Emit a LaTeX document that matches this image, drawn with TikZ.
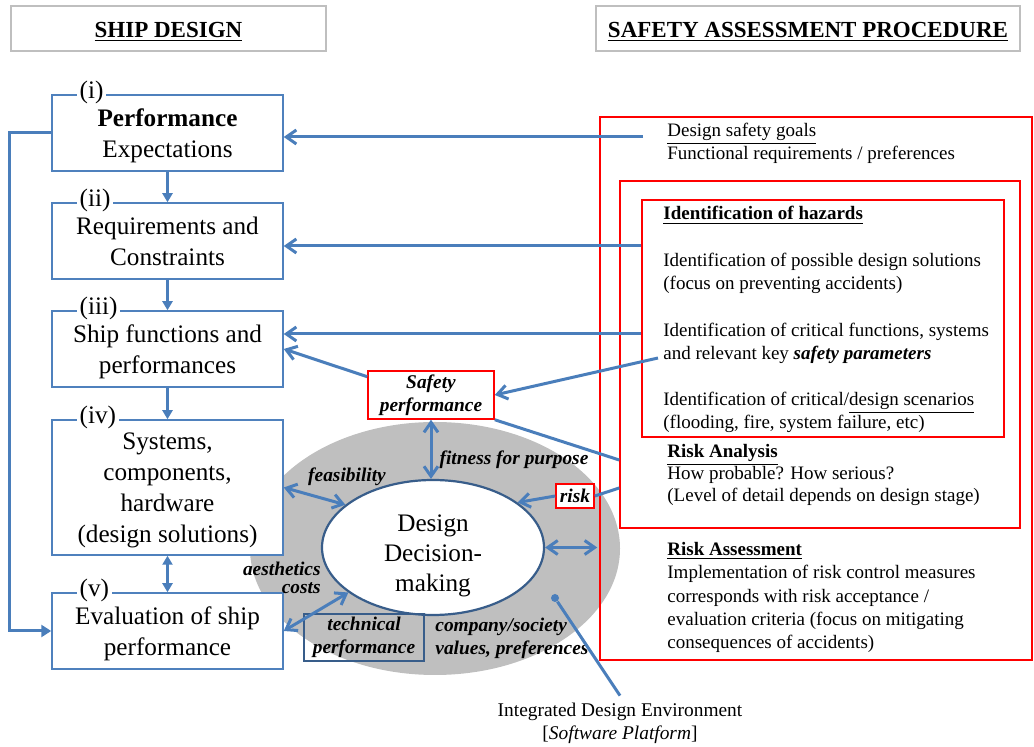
\documentclass[tikz,border=0pt]{standalone}
\usepackage{fontspec}
\setmainfont{Liberation Serif}
\usetikzlibrary{arrows.meta,positioning,shapes.geometric,calc}
\definecolor{lineblue}{HTML}{4A7EBB}
\definecolor{boxblue} {HTML}{4F81BD}
\definecolor{deepblue}{HTML}{385D8A}
\definecolor{alarm}   {HTML}{FF0000}
\definecolor{shade}   {HTML}{BFBFBF}
\tikzset{
  head/.style  ={draw=shade, line width=1pt, minimum height=22.5pt,
                 text height=9pt, text depth=0pt,
                 font=\fontsize{11.5}{13}\selectfont\bfseries},
  box/.style   ={draw=boxblue, fill=white, line width=0.75pt,
                 minimum width=115.5pt, minimum height=38pt, text depth=0pt,
                 align=center, font=\fontsize{12.6}{15.5}\selectfont, inner sep=2pt},
  tag/.style   ={fill=white, inner sep=1.5pt, anchor=west,
                 font=\fontsize{12.6}{15.5}\selectfont},
  frame/.style ={draw=alarm, line width=0.75pt, inner sep=0pt},
  note/.style  ={anchor=base west, align=left, inner sep=0pt,
                 font=\fontsize{9.5}{11.7}\selectfont},
  lbl/.style   ={font=\fontsize{9.7}{11.5}\selectfont\bfseries\itshape,
                 align=center, inner sep=1pt},
  flow/.style  ={-{Triangle[length=4.5pt,width=5pt]}, draw=lineblue, line width=1.3pt},
  conn/.style  ={-{Straight Barb[length=5pt,width=7pt]}, draw=lineblue, line width=1.5pt},
  dbl/.style   ={{Straight Barb[length=5pt,width=7pt]}-{Straight Barb[length=5pt,width=7pt]},
                 draw=lineblue, line width=1.5pt},
  link/.style  ={draw=lineblue, line width=1.5pt},
}
\begin{document}
\begin{tikzpicture}[x=0.5pt,y=-0.5pt]
  \useasboundingbox (0,0) rectangle (1034,747);

  % headings
  \node[head, minimum width=157.5pt] (hsd) at (168.5,28.5) {\underline{SHIP DESIGN}};
  \node[head, minimum width=212pt] (hsa) at (808,28.5) {\underline{SAFETY ASSESSMENT PROCEDURE}};

  % environment and decision ellipse
  \node[ellipse, fill=shade, minimum width=185pt, minimum height=126.5pt] (env) at (435,548.5) {};
  \node[ellipse, draw=deepblue, fill=white, line width=1.1pt, inner sep=0pt,
        minimum width=111pt, minimum height=67.5pt] (dd) at (433,547.5) {};
  \node[align=center, font=\fontsize{12.6}{15}\selectfont] (ddtxt) at (433,555.5)
    {Design\\Decision-\\making};

  % safety assessment frames
  \node[frame, minimum width=216pt, minimum height=271.5pt] (outer) at (816,388.5) {};
  \node[frame, minimum width=200pt, minimum height=173.5pt] (mid) at (820,354.5) {};
  \node[frame, minimum width=181pt, minimum height=118.5pt] (haz) at (823,318.5) {};

  % ship design boxes
  \node[box] (perf) at (167.5,133) {\textbf{Performance}\\Expectations};
  \node[box] (req) at (167.5,241) {Requirements and\\Constraints};
  \node[box] (func) at (167.5,349) {Ship functions and\\performances};
  \node[box, minimum height=67.5pt] (sys) at (167.5,487.5) {Systems,\\components,\\hardware\\(design solutions)};
  \node[box] (eval) at (167.5,631) {Evaluation of ship\\performance};

  \node[tag] (t1) at ([xshift=12.5pt,yshift=1pt]perf.north west) {(i)};
  \node[tag] (t2) at ([xshift=12.5pt,yshift=1pt]req.north west) {(ii)};
  \node[tag] (t3) at ([xshift=12.5pt,yshift=1pt]func.north west) {(iii)};
  \node[tag] (t4) at ([xshift=12.5pt,yshift=1pt]sys.north west) {(iv)};
  \node[tag] (t5) at ([xshift=12.5pt,yshift=1pt]eval.north west) {(v)};

  \draw[flow] (perf) -- (req);
  \draw[flow] (req) -- (func);
  \draw[flow] (func) -- (sys);
  \draw[flow, {Triangle[length=4.5pt,width=5pt]}-{Triangle[length=4.5pt,width=5pt]}] (sys) -- (eval);
  \draw[flow, line width=1.5pt, -{Triangle[length=5pt,width=6pt]}]
    (perf.west) -- ++(-42,0) |- (eval.west);

  % safety assessment texts (anchored on the last baseline)
  \node[note] (goals) at (667,160) {\underline{Design safety goals}\\Functional requirements / preferences};
  \node[note] (hazhd) at (663,220) {\textbf{\underline{Identification of hazards}}};
  \node[note] (haz1) at (663,290) {Identification of possible design solutions\\(focus on preventing accidents)};
  \node[note] (haz2) at (663,360) {Identification of critical functions, systems\\and relevant key \textbf{\textit{safety parameters}}};
  \node[note] (haz3) at (663,429) {Identification of critical/\underline{design scenarios}\\(flooding, fire, system failure, etc)};
  \node[note, font=\fontsize{9.5}{11}\selectfont] (ra) at (667,502)
    {\textbf{\underline{Risk Analysis}}\\How probable? How serious?\\(Level of detail depends on design stage)};
  \node[note] (rass) at (667,649)
    {\textbf{\underline{Risk Assessment}}\\Implementation of risk control measures\\corresponds with risk acceptance /\\evaluation criteria (focus on mitigating\\consequences of accidents)};

  % labels round the decision
  \node[frame, fill=white, lbl, minimum width=63pt, minimum height=24pt] (safety) at (431,395) {Safety\\performance};
  \node[frame, fill=white, lbl, minimum width=19pt, minimum height=12pt] (risk) at (575,496) {risk};
  \node[lbl, draw=deepblue, line width=0.75pt, minimum width=60pt, minimum height=23.5pt] (tech) at (364,637.5) {technical\\performance};
  \node[lbl] (fit) at (514,460) {fitness for purpose};
  \node[lbl] (feas) at (347,477) {feasibility};
  \node[lbl, anchor=east, align=right, font=\fontsize{9.7}{9}\selectfont\bfseries\itshape] (aes) at (323,578) {aesthetics\\costs};
  \node[lbl, anchor=west, align=left] (soc) at (433,638) {company/society\\values, preferences};

  % connectors
  \coordinate (g0) at (643,137);
  \coordinate (h1) at (haz.west |- 0,246);
  \coordinate (h2) at (haz.west |- 0,334);
  \coordinate (p0) at (658,358);
  \coordinate (s0) at (mid.west |- 0,460);
  \coordinate (r0) at (mid.west |- 0,488);
  \draw[conn] (g0) -- (g0 -| perf.east);
  \draw[conn] (h1) -- (h1 -| req.east);
  \draw[conn] (h2) -- (h2 -| func.east);
  \draw[conn] (p0) -- (safety.east);
  \draw[conn] (safety.164) -- (func.east);
  \draw[link] (safety.south east) -- (s0);
  \draw[link] (r0) -- (risk.east);
  \draw[conn] (risk.west) -- (dd.28);
  \draw[dbl] (safety.south) -- (safety.south |- dd.north);
  \draw[dbl] (sys.east) -- (dd.154);
  \draw[dbl, shorten >=1pt] (dd.east) -- (dd.east -| outer.west);
  \draw[dbl] (dd.208) -- (eval.east);

  % platform marker
  \node[circle, fill=lineblue, inner sep=0pt, minimum size=4pt] (dot) at (555,598) {};
  \node[align=center, font=\fontsize{9.7}{11.5}\selectfont] (ide) at (620,723)
    {Integrated Design Environment\\{[}\textit{Software Platform}]};
  \draw[link] (dot) -- (ide.north);
\end{tikzpicture}
\end{document}
